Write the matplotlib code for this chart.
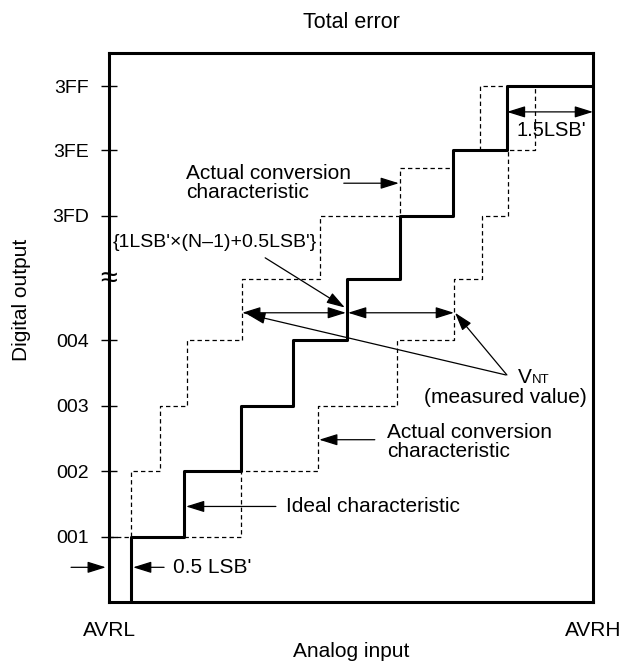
import matplotlib
matplotlib.use('Agg')
import matplotlib.pyplot as plt

plt.rcParams['font.family'] = ['Liberation Sans', 'DejaVu Sans']
plt.rcParams['font.size'] = 15

# x in LSB' units from AVRL, y in code positions (axis is broken between 004 and 3FD)
ytick_pos = [1, 2, 3, 4, 5.9, 6.9, 7.88]
ytick_labels = ['001', '002', '003', '004', '3FD', '3FE', '3FF']
x_labels = ['AVRL', 'AVRH']
x_max = 9.05
y_max = 8.39
break_y = 4.93

# ideal characteristic: x where it steps up, level after the step
ideal_x = [0.41, 1.40, 2.47, 3.44, 4.45, 5.44, 6.43, 7.44, 9.05]
ideal_y = [1, 2, 3, 4, 4.93, 5.9, 6.9, 7.88, 7.88]

# actual conversion characteristic, shifted left
left_x = [0, 0.41, 0.95, 1.46, 2.49, 3.94, 5.44, 6.43, 6.93, 7.44]
left_y = [1, 2, 3, 4, 4.93, 5.9, 6.63, 6.9, 7.88, 7.88]

# actual conversion characteristic, shifted right
right_x = [1.40, 2.47, 3.91, 5.38, 6.45, 6.97, 7.46, 7.96]
right_y = [1, 2, 3, 4, 4.93, 5.9, 6.9, 7.88]

fig = plt.figure(figsize=(6.24, 6.70), dpi=100)
ax = fig.add_axes([0.1747, 0.1015, 0.7756, 0.8194])

ax.step([ideal_x[0]] + ideal_x, [0] + ideal_y, where='post', color='black', lw=2.2, zorder=3)
dash = (0, (3.5, 2.5))
ax.step(left_x, left_y, where='post', color='black', lw=0.9, linestyle=dash, zorder=2)
ax.step(right_x, right_y, where='post', color='black', lw=0.9, linestyle=dash, zorder=2)

ax.set_xlim(0, x_max)
ax.set_ylim(0, y_max)
for s in ax.spines.values():
    s.set_linewidth(2.2)

ax.set_yticks(ytick_pos)
ax.set_yticklabels(ytick_labels, fontsize=14)
ax.tick_params(axis='y', direction='inout', length=11.5, width=1.0, pad=8.5)
ax.set_xticks([0, x_max])
ax.set_xticklabels(x_labels)
ax.tick_params(axis='x', length=0, pad=14)
ax.set_xlabel('Analog input', labelpad=1)
ax.set_title('Total error', pad=18, fontsize=15.5)
fig.text(22 / 624, 1 - 300 / 670, 'Digital output', rotation=90, ha='center', va='center')

# axis break mark
ax.text(0, break_y, '≈', ha='center', va='center', fontsize=22, clip_on=False, zorder=5)

head = '-|>,head_length=0.8,head_width=0.25'
both = '<|-|>,head_length=0.8,head_width=0.25'


def arrow(x0, y0, x1, y1, style=head):
    ax.annotate('', xy=(x1, y1), xytext=(x0, y0), annotation_clip=False,
                arrowprops=dict(arrowstyle=style, color='black', lw=0.9,
                                mutation_scale=14, shrinkA=0, shrinkB=0))


# upper "actual conversion characteristic"
ax.text(1.44, 6.41, 'Actual conversion\ncharacteristic', ha='left', va='center', linespacing=1.0)
arrow(4.39, 6.40, 5.42, 6.40)

# lower "actual conversion characteristic"
ax.text(5.20, 2.45, 'Actual conversion\ncharacteristic', ha='left', va='center', linespacing=1.0)
arrow(4.97, 2.48, 3.93, 2.48)

# ideal characteristic
ax.text(3.31, 1.46, 'Ideal characteristic', ha='left', va='center')
arrow(3.12, 1.46, 1.44, 1.46)

# 0.5 LSB'
ax.text(1.20, 0.53, "0.5 LSB'", ha='left', va='center')
arrow(1.03, 0.53, 0.45, 0.53)
arrow(-0.71, 0.53, -0.06, 0.53)

# 1.5 LSB'
ax.text(8.28, 7.21, "1.5LSB'", ha='center', va='center', fontsize=14.5)
arrow(7.44, 7.49, 9.05, 7.49, both)

# 1LSB' x (N-1) + 0.5LSB'
ax.text(1.97, 5.49, "{1LSB'×(N–1)+0.5LSB'}", ha='center', va='center', fontsize=14)
arrow(2.92, 5.26, 4.41, 4.50)

# VNT measurement spans
arrow(2.49, 4.42, 4.43, 4.42, both)
arrow(4.47, 4.42, 6.45, 4.42, both)
arrow(7.42, 3.47, 2.58, 4.40)
arrow(7.44, 3.47, 6.47, 4.42)
ax.text(7.64, 3.34, 'V', ha='left', va='baseline')
ax.annotate('NT', xy=(7.64, 3.34), xytext=(10, 0), textcoords='offset points',
            ha='left', va='baseline', fontsize=9.5)
ax.text(7.42, 3.12, '(measured value)', ha='center', va='center')

fig.savefig('out.png', dpi=100)
